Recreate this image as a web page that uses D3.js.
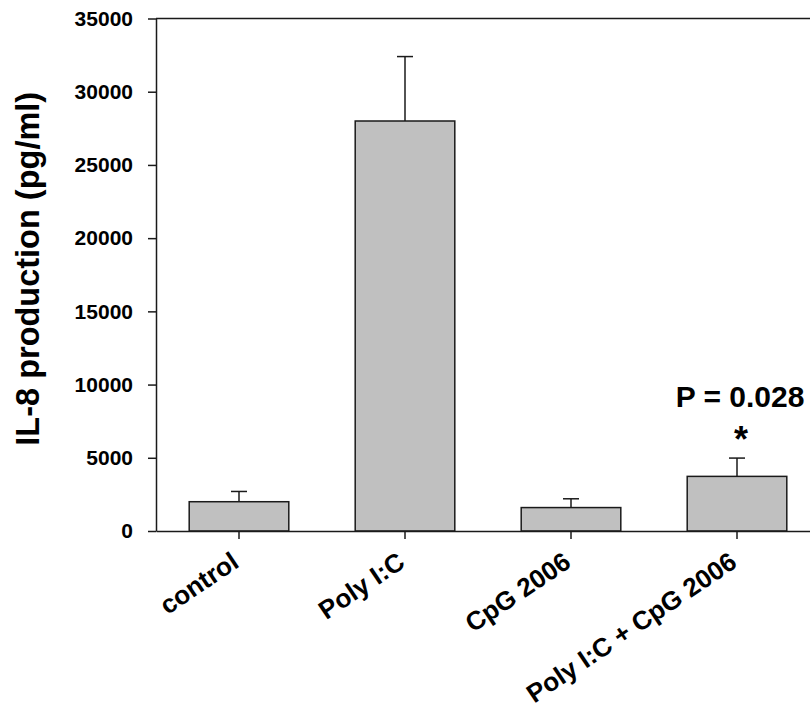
<!DOCTYPE html>
<html>
<head>
<meta charset="utf-8">
<script src="https://cdn.jsdelivr.net/npm/d3@7/dist/d3.min.js"></script>
<style>
  html, body { margin: 0; padding: 0; background: #ffffff; }
  svg { display: block; font-family: "Liberation Sans", Arial, Helvetica, sans-serif; }
</style>
</head>
<body>
<svg id="chart" width="810" height="713"></svg>
<script>
// IL-8 production by treatment (mean and upper SD, pg/ml)
const categories = ["control", "Poly I:C", "CpG 2006", "Poly I:C + CpG 2006"];
const means = [2000, 28000, 1600, 3730];
const errors = [700, 4400, 600, 1250];
const yTicks = [0, 5000, 10000, 15000, 20000, 25000, 30000, 35000];
const annotationText = "P = 0.028";
const annotationMark = "*";
const annotatedCategory = "Poly I:C + CpG 2006";
const yTitle = "IL-8 production (pg/ml)";

(function () {
  const svg = d3.select("#chart");
  const W = 810;

  // plot frame: left axis at x=156, the category axis runs past the right edge
  const plotLeft = 156, plotTop = 18.5, plotBottom = 531;
  const step = 166;

  const x = d3.scaleBand()
    .domain(categories)
    .range([plotLeft, plotLeft + step * categories.length])
    .paddingInner(0.4)
    .paddingOuter(0.2);

  const y = d3.scaleLinear()
    .domain([0, 35000])
    .range([plotBottom, plotTop]);

  const stroke = "#1a1a1a";

  // bars
  svg.append("g").selectAll("rect")
    .data(categories)
    .join("rect")
    .attr("x", d => x(d))
    .attr("y", (d, i) => y(means[i]))
    .attr("width", x.bandwidth())
    .attr("height", (d, i) => y(0) - y(means[i]))
    .attr("fill", "#c0c0c0")
    .attr("stroke", stroke)
    .attr("stroke-width", 1.5);

  // upper error bars
  const eb = svg.append("g").attr("stroke", stroke).attr("stroke-width", 1.5);
  categories.forEach((c, i) => {
    const cx = x(c) + x.bandwidth() / 2;
    eb.append("line")
      .attr("x1", cx).attr("x2", cx)
      .attr("y1", y(means[i])).attr("y2", y(means[i] + errors[i]));
    eb.append("line")
      .attr("x1", cx - 8).attr("x2", cx + 8)
      .attr("y1", y(means[i] + errors[i])).attr("y2", y(means[i] + errors[i]));
  });

  // y axis
  const yAxis = svg.append("g")
    .attr("transform", `translate(${plotLeft},0)`)
    .call(d3.axisLeft(y).tickValues(yTicks).tickFormat(d3.format("d"))
      .tickSize(8).tickSizeOuter(0).tickPadding(15));
  yAxis.selectAll("path, line").attr("stroke", stroke).attr("stroke-width", 1.5);
  yAxis.selectAll("text")
    .attr("font-size", 21).attr("font-weight", "bold").attr("fill", "#000")
    .attr("font-family", "Liberation Sans, Arial, sans-serif");

  // top frame line
  svg.append("line")
    .attr("x1", plotLeft).attr("x2", W)
    .attr("y1", y(35000)).attr("y2", y(35000))
    .attr("stroke", stroke).attr("stroke-width", 1.5);

  // x axis with slanted category labels ending under each tick
  const xAxis = svg.append("g")
    .attr("transform", `translate(0,${plotBottom})`)
    .call(d3.axisBottom(x).tickSize(8).tickSizeOuter(0));
  xAxis.selectAll("path, line").attr("stroke", stroke).attr("stroke-width", 1.5);
  xAxis.selectAll("text")
    .attr("font-size", 26).attr("font-weight", "bold").attr("fill", "#000")
    .attr("font-family", "Liberation Sans, Arial, sans-serif")
    .attr("text-anchor", "end")
    .attr("dy", null)
    .attr("y", null)
    .attr("transform", "translate(1.5,35) rotate(-34)");

  // y axis title
  svg.append("text")
    .attr("transform", `translate(39,${(plotTop + plotBottom) / 2 - 6}) rotate(-90)`)
    .attr("text-anchor", "middle")
    .attr("font-size", 32.5)
    .attr("font-weight", "bold")
    .text(yTitle);

  // significance annotation
  const acx = x(annotatedCategory) + x.bandwidth() / 2;
  svg.append("text")
    .attr("x", acx + 3).attr("y", 406.5)
    .attr("text-anchor", "middle")
    .attr("font-size", 30).attr("font-weight", "bold")
    .text(annotationText);
  svg.append("text")
    .attr("x", acx + 4).attr("y", 452)
    .attr("text-anchor", "middle")
    .attr("font-size", 36).attr("font-weight", "bold")
    .text(annotationMark);
})();
</script>
</body>
</html>
